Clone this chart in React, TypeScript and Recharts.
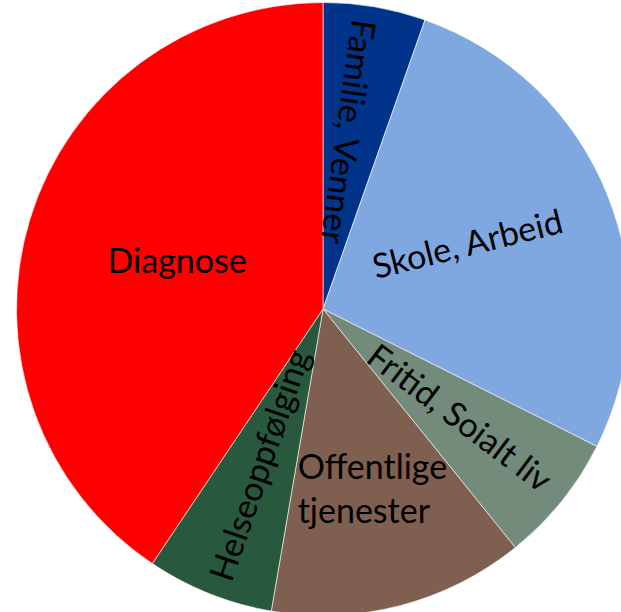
import { PieChart, Pie, Cell } from 'recharts';

const categories = ['Familie, Venner', 'Skole, Arbeid', 'Fritid, Soialt liv', 'Offentlige tjenester', 'Helseoppfølging', 'Diagnose'];
const values = [5.4, 27.0, 6.8, 13.5, 6.7, 40.6];
const colors = ['#00338A', '#80A8E0', '#728B7A', '#7F6050', '#28593F', '#FF0000'];

// label placement: radius ratio, angle shift (deg, clockwise), rotation, anchor, lines
const labelLayout = [
  { ratio: 0.584, shift: -1, rotate: 98, anchor: 'middle', lines: ['Familie, Venner'] },
  { ratio: 0.518, shift: -3, rotate: -14, anchor: 'middle', lines: ['Skole, Arbeid'] },
  { ratio: 0.57, shift: -1, rotate: 37, anchor: 'middle', lines: ['Fritid, Soialt liv'] },
  { ratio: 0.586, shift: 22.7, rotate: 0, anchor: 'start', lines: ['Offentlige', 'tjenester'] },
  { ratio: 0.55, shift: 1, rotate: -71, anchor: 'middle', lines: ['Helseoppfølging'] },
  { ratio: 0.503, shift: 2, rotate: 0, anchor: 'middle', lines: ['Diagnose'] },
];

const data = categories.map((name, i) => ({ name, value: values[i] }));

const LINE_GAP = 44;

function renderLabel(props: any) {
  const { cx, cy, midAngle, outerRadius, index } = props;
  const l = labelLayout[index];
  const compass = ((90 - midAngle + l.shift) * Math.PI) / 180;
  const r = outerRadius * l.ratio;
  const x = cx + r * Math.sin(compass);
  const y = cy - r * Math.cos(compass);
  const startY = -((l.lines.length - 1) * LINE_GAP) / 2;
  return (
    <text
      key={`lbl-${index}`}
      x={x}
      y={y}
      transform={`rotate(${l.rotate} ${x} ${y})`}
      textAnchor={l.anchor}
      dominantBaseline="central"
      fill="#000"
      fontFamily="Lato, sans-serif"
      fontSize={34}
    >
      {l.lines.map((line, j) => (
        <tspan key={j} x={x} y={y + startY + j * LINE_GAP}>
          {line}
        </tspan>
      ))}
    </text>
  );
}

export default function App() {
  return (
    <div style={{ position: 'absolute', top: 0, left: 0, width: 621, height: 612, overflow: 'hidden' }}>
      <PieChart width={660} height={660} margin={{ top: 0, right: 0, bottom: 0, left: 0 }}>
        <Pie
          data={data}
          dataKey="value"
          nameKey="name"
          cx={323}
          cy={309}
          outerRadius={306.5}
          startAngle={90}
          endAngle={-270}
          stroke="#ffffff"
          strokeWidth={0.6}
          label={renderLabel}
          labelLine={false}
          isAnimationActive={false}
        >
          {data.map((d, i) => (
            <Cell key={d.name} fill={colors[i]} />
          ))}
        </Pie>
      </PieChart>
    </div>
  );
}
